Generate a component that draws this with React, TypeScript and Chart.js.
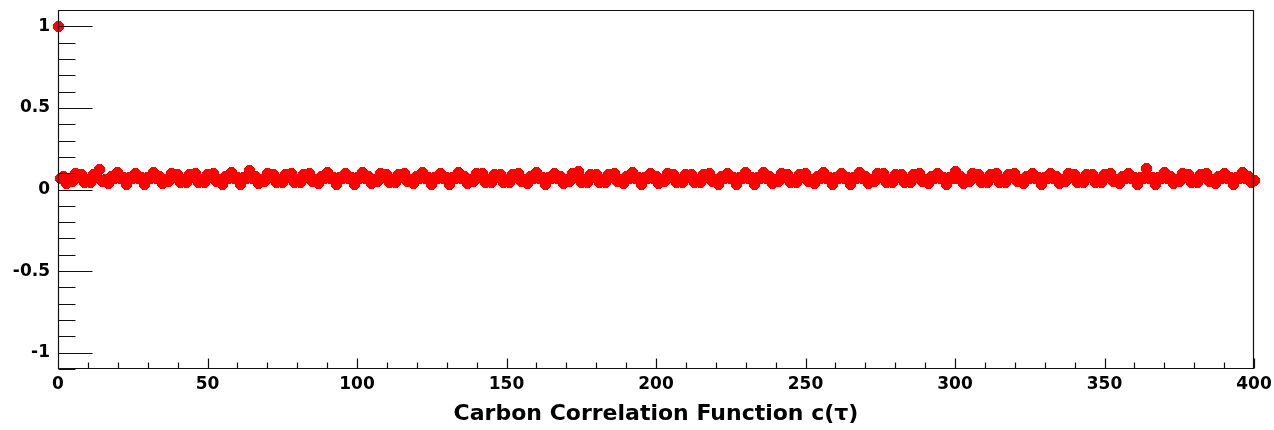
import React, { useEffect, useRef } from "react";
import { Chart, registerables } from "chart.js";

Chart.register(...registerables);

// c(tau) for tau = 0..400
const corr: number[] = [
  1.0, 0.069, 0.08, 0.034, 0.062, 0.052, 0.097,
  0.075, 0.094, 0.044, 0.06, 0.044, 0.094,
  0.075, 0.12, 0.052, 0.062, 0.034, 0.08, 0.069,
  0.103, 0.066, 0.072, 0.032, 0.072, 0.066,
  0.101, 0.065, 0.074, 0.033, 0.072, 0.066,
  0.103, 0.069, 0.08, 0.034, 0.062, 0.052, 0.097,
  0.075, 0.094, 0.044, 0.06, 0.044, 0.094,
  0.076, 0.099, 0.045, 0.061, 0.042, 0.092,
  0.075, 0.097, 0.052, 0.062, 0.032, 0.08, 0.069,
  0.103, 0.066, 0.072, 0.032, 0.072, 0.066,
  0.115, 0.07, 0.081, 0.034, 0.062, 0.052, 0.097,
  0.075, 0.094, 0.044, 0.06, 0.044, 0.094,
  0.075, 0.097, 0.045, 0.062, 0.043, 0.094,
  0.075, 0.097, 0.052, 0.062, 0.034, 0.08, 0.069,
  0.103, 0.066, 0.072, 0.03, 0.072, 0.066,
  0.1, 0.065, 0.072, 0.033, 0.074, 0.066,
  0.103, 0.069, 0.08, 0.034, 0.062, 0.052, 0.097,
  0.075, 0.094, 0.044, 0.06, 0.044, 0.094,
  0.075, 0.097, 0.052, 0.062, 0.034, 0.08, 0.069,
  0.103, 0.066, 0.072, 0.032, 0.072, 0.066,
  0.101, 0.066, 0.072, 0.033, 0.072, 0.066,
  0.104, 0.069, 0.08, 0.034, 0.062, 0.052, 0.097,
  0.075, 0.097, 0.044, 0.06, 0.044, 0.094,
  0.075, 0.094, 0.044, 0.061, 0.043, 0.094,
  0.075, 0.097, 0.052, 0.062, 0.034, 0.08, 0.069,
  0.103, 0.066, 0.072, 0.032, 0.072, 0.066,
  0.101, 0.069, 0.08, 0.034, 0.062, 0.052, 0.097,
  0.076, 0.11, 0.045, 0.06, 0.044, 0.094,
  0.075, 0.094, 0.044, 0.06, 0.042, 0.094,
  0.075, 0.097, 0.052, 0.062, 0.034, 0.08, 0.069,
  0.103, 0.066, 0.072, 0.032, 0.072, 0.066,
  0.101, 0.069, 0.08, 0.034, 0.062, 0.052, 0.095,
  0.073, 0.092, 0.042, 0.059, 0.042, 0.092,
  0.073, 0.092, 0.044, 0.06, 0.044, 0.094,
  0.075, 0.099, 0.052, 0.061, 0.03, 0.08, 0.069,
  0.101, 0.066, 0.072, 0.032, 0.072, 0.066,
  0.103, 0.065, 0.071, 0.029, 0.072, 0.066,
  0.103, 0.069, 0.08, 0.034, 0.062, 0.052, 0.097,
  0.075, 0.094, 0.044, 0.06, 0.044, 0.094,
  0.075, 0.097, 0.052, 0.062, 0.034, 0.08, 0.069,
  0.103, 0.066, 0.072, 0.032, 0.072, 0.066,
  0.101, 0.066, 0.072, 0.033, 0.072, 0.066,
  0.103, 0.069, 0.08, 0.034, 0.062, 0.052, 0.097,
  0.075, 0.097, 0.044, 0.06, 0.044, 0.094,
  0.075, 0.094, 0.044, 0.061, 0.044, 0.094,
  0.075, 0.097, 0.052, 0.062, 0.034, 0.08, 0.069,
  0.101, 0.066, 0.072, 0.032, 0.072, 0.068,
  0.11, 0.07, 0.08, 0.034, 0.062, 0.052, 0.097,
  0.075, 0.094, 0.044, 0.06, 0.044, 0.094,
  0.075, 0.097, 0.045, 0.06, 0.043, 0.094,
  0.075, 0.097, 0.052, 0.062, 0.034, 0.08, 0.069,
  0.101, 0.066, 0.072, 0.032, 0.072, 0.066,
  0.101, 0.069, 0.079, 0.034, 0.062, 0.052, 0.095,
  0.075, 0.094, 0.044, 0.06, 0.044, 0.092,
  0.073, 0.092, 0.043, 0.059, 0.042, 0.092,
  0.075, 0.095, 0.052, 0.062, 0.034, 0.079, 0.069,
  0.101, 0.066, 0.072, 0.032, 0.072, 0.066,
  0.13, 0.066, 0.072, 0.032, 0.072, 0.066,
  0.103, 0.069, 0.08, 0.034, 0.062, 0.052, 0.097,
  0.075, 0.094, 0.044, 0.06, 0.044, 0.094,
  0.075, 0.097, 0.052, 0.062, 0.034, 0.08, 0.069,
  0.101, 0.066, 0.072, 0.032, 0.072, 0.066,
  0.103, 0.069, 0.08, 0.044, 0.055,
];

const xMajorTicks = [0, 50, 100, 150, 200, 250, 300, 350, 400];
const yMajorTicks = [-1, -0.5, 0, 0.5, 1];
const xRange = [0, 400];
const yRange = [-1.1, 1.1];
const xMinorStep = 10;
const yMinorStep = 0.1;
const xTitle = "Carbon Correlation Function c(\u03c4)";

const FONT = "'DejaVu Sans', Arial, Helvetica, sans-serif";
const MARKER_COLOR = "#ff0000";

// crisp (non-antialiased) filled circle marker sprite, ROOT style 20
function makeMarker(size: number, r: number): HTMLCanvasElement {
  const c = document.createElement("canvas");
  c.width = size;
  c.height = size;
  const g = c.getContext("2d")!;
  g.fillStyle = MARKER_COLOR;
  const mid = size / 2;
  for (let py = 0; py < size; py++) {
    for (let px = 0; px < size; px++) {
      const dx = px + 0.5 - mid;
      const dy = py + 0.5 - mid;
      if (dx * dx + dy * dy <= r * r) g.fillRect(px, py, 1, 1);
    }
  }
  return c;
}

const crispPoints = {
  id: "crispPoints",
  beforeDatasetsDraw(chart: any) {
    chart.ctx.imageSmoothingEnabled = false;
  },
  afterDatasetsDraw(chart: any) {
    chart.ctx.imageSmoothingEnabled = true;
  },
};

const rootFrame = {
  id: "rootFrame",
  afterDraw(chart: any) {
    const { ctx, chartArea: a, scales } = chart;
    const x = scales.x;
    const y = scales.y;
    ctx.save();
    ctx.strokeStyle = "#111";
    ctx.lineWidth = 1.2;
    const L = Math.round(a.left) + 0.5;
    const R = Math.round(a.right) - 0.5;
    const T = Math.round(a.top) + 0.5;
    const B = Math.round(a.bottom) - 0.5;
    ctx.beginPath();
    ctx.rect(L, T, R - L, B - T);
    // x ticks (inward)
    const nx = Math.round((xRange[1] - xRange[0]) / xMinorStep);
    for (let i = 0; i <= nx; i++) {
      const v = xRange[0] + i * xMinorStep;
      const major = xMajorTicks.some((t) => Math.abs(t - v) < 1e-6);
      const px = Math.round(x.getPixelForValue(v)) + 0.5;
      const len = major ? 10 : 6;
      ctx.moveTo(px, B);
      ctx.lineTo(px, B - len);
    }
    // y ticks (inward)
    const ny = Math.round((yRange[1] - yRange[0]) / yMinorStep);
    for (let i = 0; i <= ny; i++) {
      const v = yRange[0] + i * yMinorStep;
      const major = yMajorTicks.some((t) => Math.abs(t - v) < 1e-6);
      const py = Math.round(y.getPixelForValue(v)) + 0.5;
      const len = major ? 34 : 17;
      ctx.moveTo(L, py);
      ctx.lineTo(L + len, py);
    }
    ctx.stroke();
    ctx.restore();
  },
};

export default function App() {
  const ref = useRef<HTMLCanvasElement | null>(null);

  useEffect(() => {
    document.body.style.margin = "0";
    const canvas = ref.current;
    if (!canvas) return;
    const marker = makeMarker(11, 5.4);
    const chart = new Chart(canvas, {
      type: "scatter",
      data: {
        datasets: [
          {
            data: corr.map((v, i) => ({ x: i, y: v })),
            backgroundColor: MARKER_COLOR,
            borderColor: MARKER_COLOR,
            pointBackgroundColor: MARKER_COLOR,
            pointBorderColor: MARKER_COLOR,
            pointBorderWidth: 0,
            pointStyle: marker,
            pointRadius: 5.5,
            pointHoverRadius: 5.5,
            showLine: false,
            clip: false as any,
          },
        ],
      },
      options: {
        animation: false,
        responsive: false,
        devicePixelRatio: 1,
        layout: { padding: { left: 0, right: 20, top: 10, bottom: 0 } },
        plugins: {
          legend: { display: false },
          tooltip: { enabled: false },
          title: { display: false },
        },
        scales: {
          x: {
            type: "linear",
            min: xRange[0],
            max: xRange[1],
            grid: { display: false, drawTicks: false },
            border: { display: false },
            afterBuildTicks: (s: any) => {
              s.ticks = xMajorTicks.map((v) => ({ value: v }));
            },
            afterFit: (s: any) => {
              s.height = 61;
              s.paddingLeft = 0;
              s.paddingRight = 0;
            },
            ticks: {
              autoSkip: false,
              maxRotation: 0,
              padding: 5,
              color: "#000",
              font: { family: FONT, size: 17, weight: "bold" },
              callback: (v: any) => String(v),
            },
            title: {
              display: true,
              text: xTitle,
              color: "#000",
              font: { family: FONT, size: 22, weight: "bold" },
              padding: { top: 0, bottom: 3 },
            },
          },
          y: {
            type: "linear",
            min: yRange[0],
            max: yRange[1],
            grid: { display: false, drawTicks: false },
            border: { display: false },
            afterBuildTicks: (s: any) => {
              s.ticks = yMajorTicks.map((v) => ({ value: v }));
            },
            afterFit: (s: any) => {
              s.width = 58;
              s.paddingTop = 0;
              s.paddingBottom = 0;
            },
            ticks: {
              autoSkip: false,
              padding: 8,
              color: "#000",
              font: { family: FONT, size: 17, weight: "bold" },
              callback: (v: any) => String(v),
            },
          },
        },
      },
      plugins: [crispPoints, rootFrame],
    } as any);
    return () => chart.destroy();
  }, []);

  return (
    <div style={{ width: 1274, height: 430, background: "#fff" }}>
      <canvas ref={ref} width={1274} height={430} style={{ display: "block" }} />
    </div>
  );
}
